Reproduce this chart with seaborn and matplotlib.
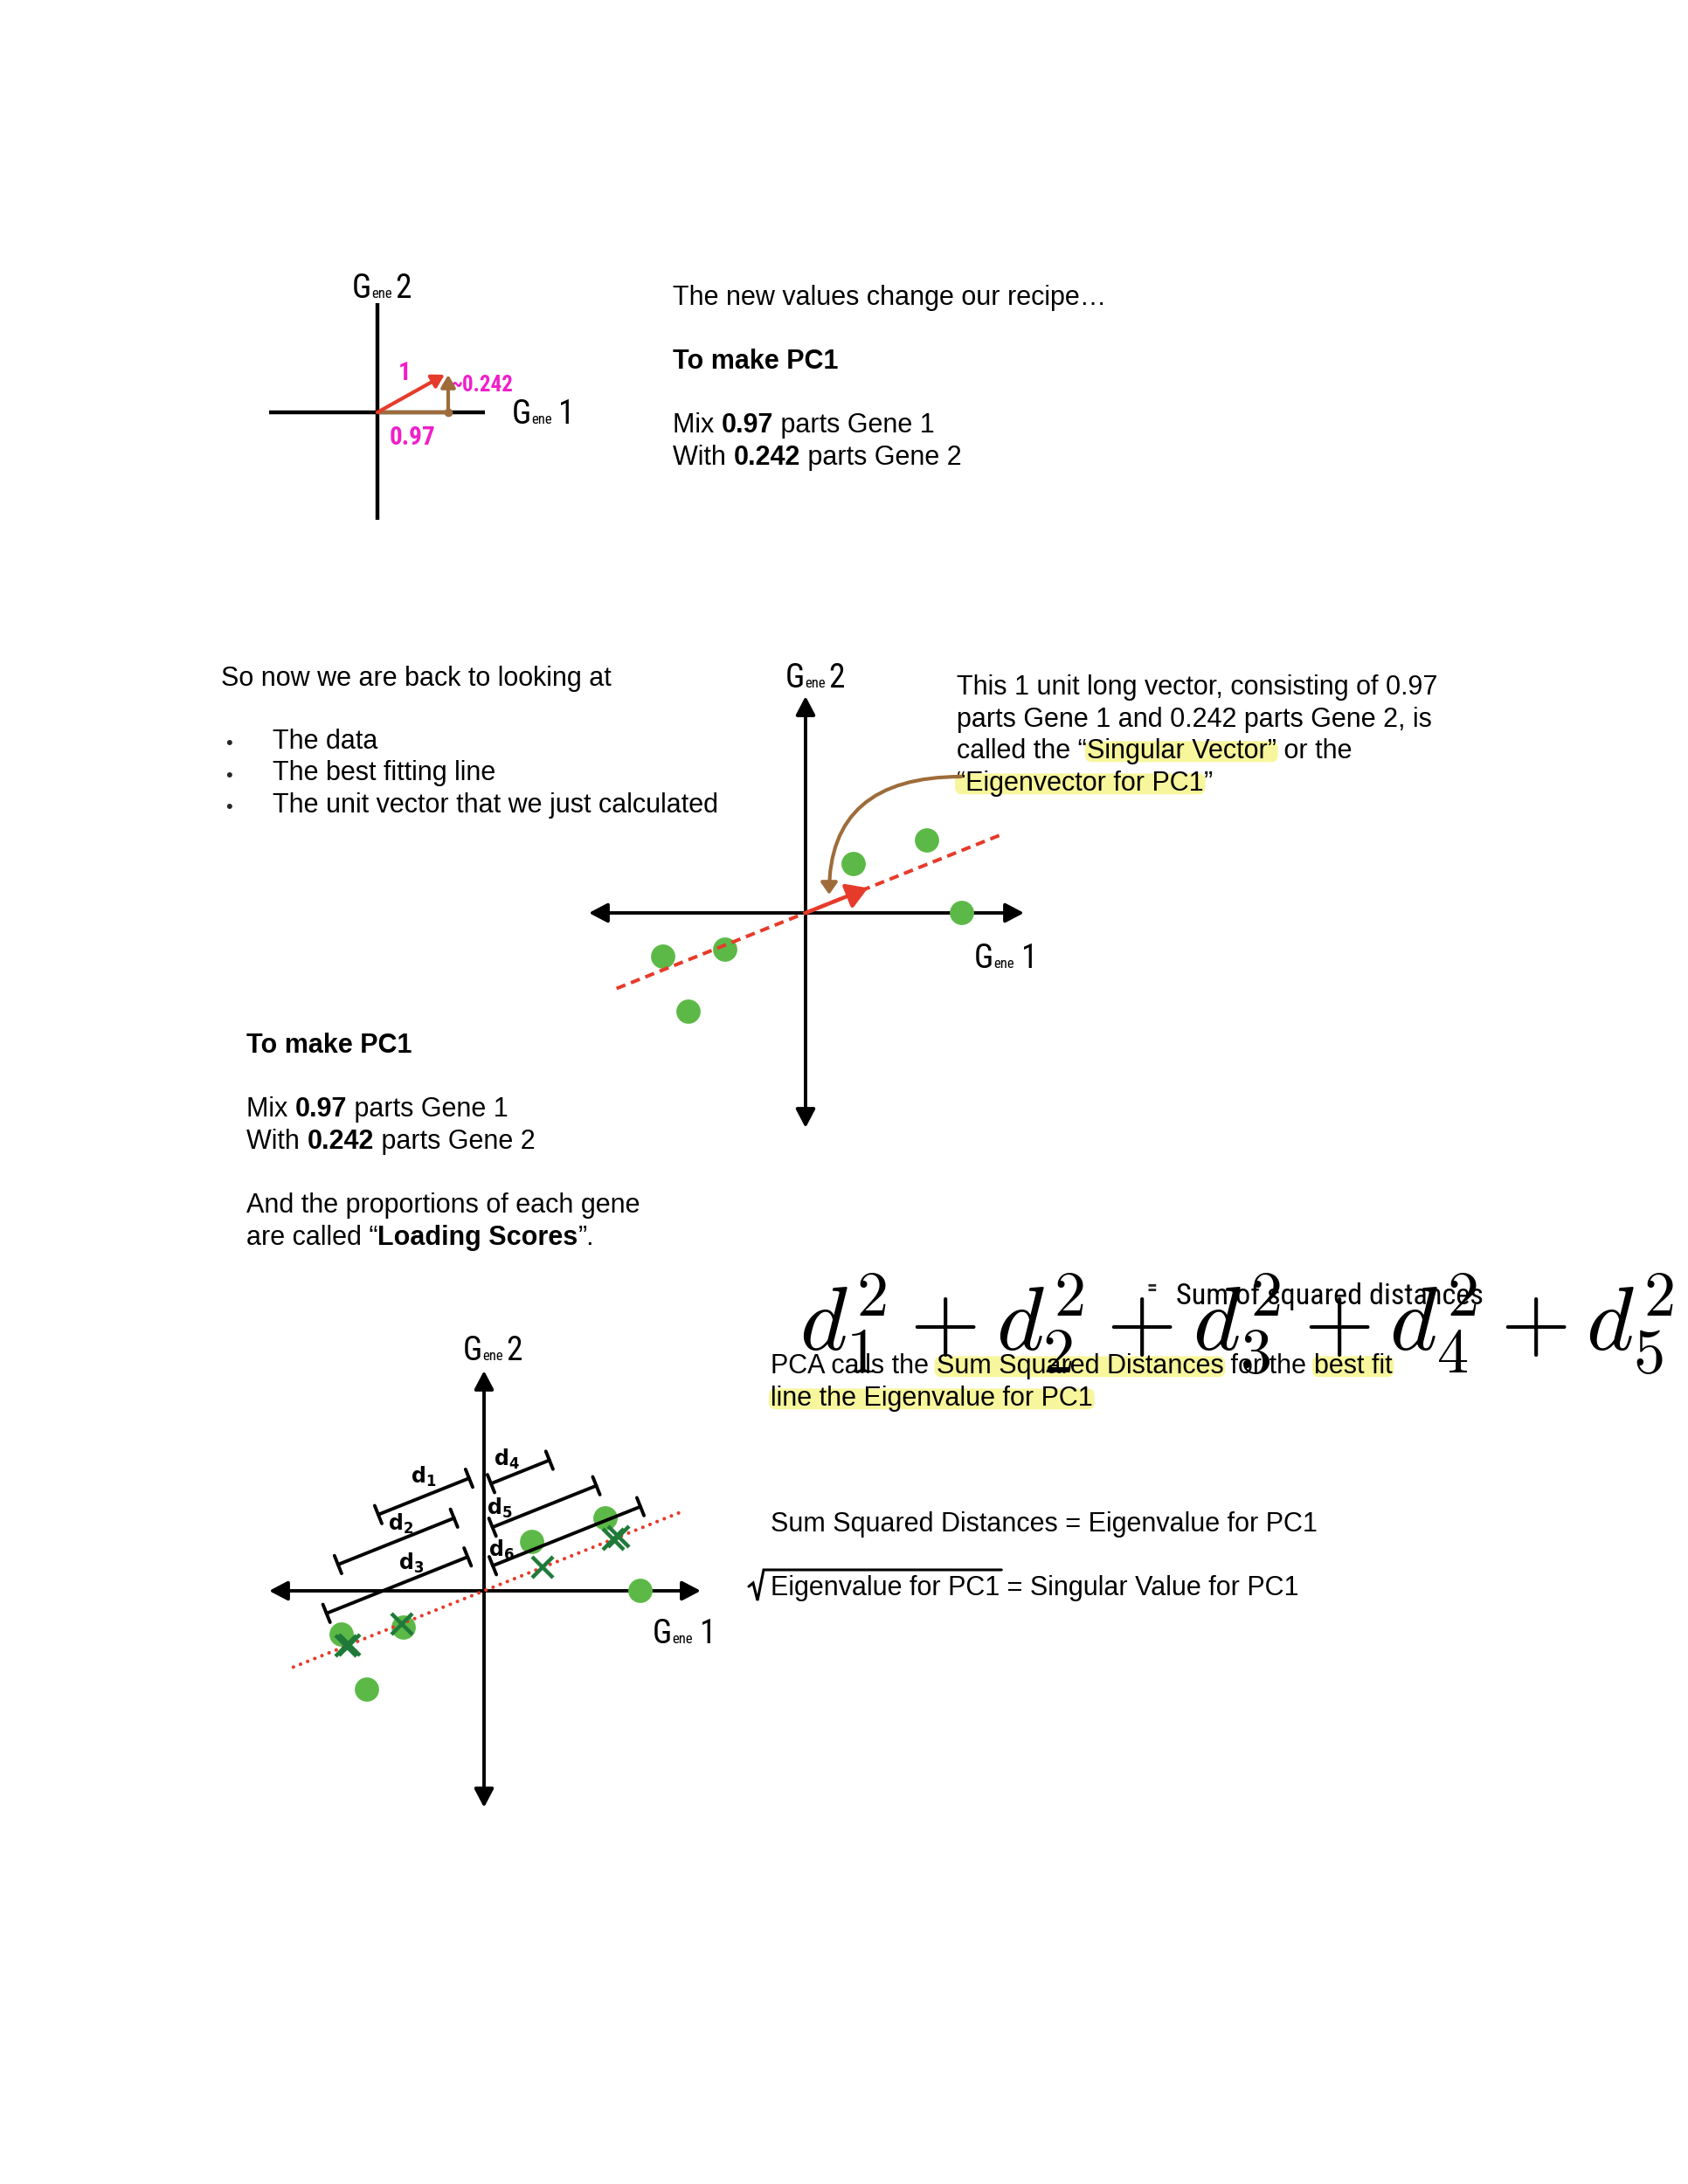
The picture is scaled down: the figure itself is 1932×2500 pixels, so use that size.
import numpy as np
import pandas as pd
import matplotlib
matplotlib.use("Agg")
import matplotlib.pyplot as plt
import seaborn as sns
from matplotlib.patches import FancyBboxPatch
from matplotlib import font_manager

# ------------------------------------------------------------------ data
gene1 = [0.55, 1.39, 1.79, -0.92, -1.63, -1.34]      # Gene 1 values (sketch units)
gene2 = [0.56, 0.83, 0.00, -0.42, -0.50, -1.13]      # Gene 2 values
loading_gene1 = 0.97
loading_gene2 = 0.242
fit_slope = 0.40                     # slope of the drawn best-fit line
fit_span_mid = [-2.33, 2.44]         # extent of the dashed line (along the line)
fit_span_bot = [-2.35, 2.45]         # extent of the dotted line
unit_arrow_len = 0.77                # drawn length of the unit vector (middle sketch)

# distance bars in the bottom sketch (along-line start/end, offset above line)
bar_names = ["d_1", "d_2", "d_3", "d_4", "d_5", "d_6"]
bar_start = [-0.80, -1.44, -1.77, 0.53, 0.36, 0.20]
bar_end = [0.32, -0.01, -0.03, 1.25, 1.64, 2.02]
bar_offset = [1.26, 0.90, 0.43, 1.11, 0.64, 0.23]
bar_label_at = [-0.16, -0.60, -0.66, 0.80, 0.52, 0.36]
bar_label_rise = [0.21, 0.17, 0.17, 0.19, 0.17, 0.13]

top_text = ["The new values change our recipe\u2026", "To make PC1",
            "Mix ", "0.97", " parts Gene 1", "With ", "0.242", " parts Gene 2"]
bullets = ["The data", "The best fitting line", "The unit vector that we just calculated"]

# ------------------------------------------------------------------ style
sns.set_theme(style="white")
plt.rcParams["font.family"] = ["Liberation Sans", "DejaVu Sans"]
BODY = "Liberation Sans"
_names = {f.name for f in font_manager.fontManager.ttflist}
HAND = [n for n in ["Liberation Sans Narrow", "DejaVu Sans Condensed", "Roboto Condensed"]
        if n in _names] + ["DejaVu Sans"]
GREEN = "#5CB947"
DKGREEN = "#1F7A3A"
RED = "#E63B2B"
BROWN = "#9E6C3B"
MAGENTA = "#F01FC9"
HL = "#F8F69C"

W, H = 1932, 2500
fig = plt.figure(figsize=(W / 100, H / 100), dpi=100)
fig.patch.set_facecolor("white")
page = fig.add_axes([0, 0, 1, 1])
page.set_xlim(0, W)
page.set_ylim(H, 0)
page.axis("off")
renderer = fig.canvas.get_renderer()


def seg_width(s, fs, weight="normal", family=BODY):
    kw = dict(fontsize=fs, fontweight=weight, family=family)
    t1 = page.text(0, 0, s + "|", **kw)
    t2 = page.text(0, 0, "|", **kw)
    w = t1.get_window_extent(renderer).width - t2.get_window_extent(renderer).width
    t1.remove()
    t2.remove()
    return w


def write(x, base, segs, fs=22, family=BODY, color="black"):
    em = fs * 100 / 72
    for text, style in segs:
        weight = "bold" if "b" in style else "normal"
        w = seg_width(text, fs, weight, family)
        if "h" in style:
            page.add_patch(FancyBboxPatch((x - 2, base - 0.64 * em), w + 4, 0.78 * em,
                                          boxstyle="round,pad=0,rounding_size=8",
                                          fc=HL, ec="none", zorder=1))
        page.text(x, base, text, fontsize=fs, fontweight=weight, family=family,
                  va="baseline", ha="left", color=color, zorder=3)
        x += w
    return x


def gene_label(cx, cy, num, gap):
    segs = [("G", 27), ("ene", 12), (gap, 12), (num, 27)]
    widths = [seg_width(s, f, "normal", HAND) for s, f in segs]
    x = cx - sum(widths) / 2
    base = cy + 16
    for (s, f), w in zip(segs, widths):
        page.text(x, base, s, fontsize=f, family=HAND, va="baseline", ha="left",
                  color="black", zorder=3)
        x += w


def diagram_axes(origin, ppu, box):
    ox, oy = origin
    l, t, r, b = box
    ax = fig.add_axes([l / W, 1 - b / H, (r - l) / W, (b - t) / H])
    ax.set_xlim((l - ox) / ppu[0], (r - ox) / ppu[0])
    ax.set_ylim((oy - b) / ppu[1], (oy - t) / ppu[1])
    ax.axis("off")
    ax.patch.set_alpha(0)
    return ax


def axis_arrows(ax, xr, yr):
    st = "<|-|>,head_length=0.8,head_width=0.42"
    ax.annotate("", xy=(xr[1], 0), xytext=(xr[0], 0),
                arrowprops=dict(arrowstyle=st, color="black", lw=2.8, mutation_scale=16,
                                shrinkA=0, shrinkB=0), zorder=2)
    ax.annotate("", xy=(0, yr[1]), xytext=(0, yr[0]),
                arrowprops=dict(arrowstyle=st, color="black", lw=2.8, mutation_scale=16,
                                shrinkA=0, shrinkB=0), zorder=2)


df = pd.DataFrame({"Gene 1": gene1, "Gene 2": gene2})
theta = np.arctan(fit_slope)
u = np.array([np.cos(theta), np.sin(theta)])
nrm = np.array([-np.sin(theta), np.cos(theta)])

# ------------------------------------------------------------------ top sketch
ax1 = diagram_axes((432, 472), (83.5, 178), (290, 330, 580, 610))
ax1.plot([-1.48, 1.47], [0, 0], color="black", lw=3.2, solid_capstyle="butt")
ax1.plot([0, 0], [-0.69, 0.70], color="black", lw=3.2, solid_capstyle="butt")
ax1.plot([0, loading_gene1], [0, 0], color=BROWN, lw=3.0, zorder=3)
ax1.plot([loading_gene1], [0], "o", color=BROWN, ms=6, zorder=4)
ax1.annotate("", xy=(loading_gene1, loading_gene2), xytext=(loading_gene1, 0),
             arrowprops=dict(arrowstyle="-|>,head_length=0.6,head_width=0.35", color=BROWN,
                             lw=3.0, mutation_scale=14, shrinkA=0, shrinkB=0), zorder=3)
ax1.annotate("", xy=(loading_gene1 * 0.95, loading_gene2), xytext=(0, 0),
             arrowprops=dict(arrowstyle="-|>,head_length=0.6,head_width=0.35", color=RED,
                             lw=3.0, mutation_scale=14, shrinkA=0, shrinkB=0), zorder=4)
page.text(463, 427, "1", fontsize=21, fontweight="bold", family=HAND, color=MAGENTA,
          ha="center", va="center")
page.text(516, 441, "~0.242", fontsize=18, fontweight="bold", family=HAND, color=MAGENTA,
          ha="left", va="center")
page.text(472, 501, "0.97", fontsize=21, fontweight="bold", family=HAND, color=MAGENTA,
          ha="center", va="center")
gene_label(437, 325, "2", " ")
gene_label(622, 469, "1", "  ")

write(770, 349, [(top_text[0], "")])
write(770, 422, [(top_text[1], "b")])
write(770, 495, [(top_text[2], ""), (top_text[3], "b"), (top_text[4], "")])
write(770, 532, [(top_text[5], ""), (top_text[6], "b"), (top_text[7], "")])

# ------------------------------------------------------------------ middle sketch
write(253, 785, [("So now we are back to looking at", "")])
for i, b in enumerate(bullets):
    page.text(258, 857 + 36.5 * i, "\u2022", fontsize=16, family=BODY, va="baseline", ha="left")
    write(312, 857 + 36.5 * i, [(b, "")])

ax2 = diagram_axes((922, 1045), (100, 100), (640, 780, 1210, 1310))
axis_arrows(ax2, (-2.48, 2.50), (-2.46, 2.48))
sns.scatterplot(data=df, x="Gene 1", y="Gene 2", ax=ax2, s=400, color=GREEN,
                edgecolor="none", zorder=3, legend=False)
span = np.array(fit_span_mid)
ax2.plot(span * u[0], span * u[1], color=RED, lw=2.9, dashes=(2.7, 1.7), zorder=4)
tip = unit_arrow_len * u
ax2.annotate("", xy=(tip[0], tip[1]), xytext=(0, 0),
             arrowprops=dict(arrowstyle="-|>,head_length=0.9,head_width=0.55", color=RED,
                             lw=3.2, mutation_scale=16, shrinkA=0, shrinkB=0), zorder=5)
ax2.set_xlim((640 - 922) / 100, (1210 - 922) / 100)
ax2.set_ylim((1045 - 1310) / 100, (1045 - 780) / 100)
ax2.set_xlabel("")
ax2.set_ylabel("")
gene_label(933, 771, "2", " ")
gene_label(1151, 1092, "1", "  ")

write(1095, 795, [("This 1 unit long vector, consisting of 0.97", "")])
write(1095, 832, [("parts Gene 1 and 0.242 parts Gene 2, is", "")])
write(1095, 868, [("called the \u201c", ""), ("Singular Vector\u201d", "h"), (" or the", "")])
write(1095, 905, [("\u201cEigenvector for PC1", "h"), ("\u201d", "")])

page.annotate("", xy=(949, 1024), xytext=(1100, 889),
              arrowprops=dict(arrowstyle="-|>,head_length=0.5,head_width=0.35", color=BROWN,
                              lw=3.0, mutation_scale=16, shrinkA=0, shrinkB=0,
                              connectionstyle="angle3,angleA=0,angleB=90"), zorder=4)

write(282, 1205, [("To make PC1", "b")])
write(282, 1278, [(top_text[2], ""), (top_text[3], "b"), (top_text[4], "")])
write(282, 1315, [(top_text[5], ""), (top_text[6], "b"), (top_text[7], "")])
write(282, 1388, [("And the proportions of each gene", "")])
write(282, 1425, [("are called \u201c", ""), ("Loading Scores", "b"), ("\u201d.", "")])

# ------------------------------------------------------------------ bottom sketch
ax3 = diagram_axes((554, 1821), (100, 100), (290, 1500, 830, 2090))
axis_arrows(ax3, (-2.46, 2.48), (-2.48, 2.52))
sns.scatterplot(data=df, x="Gene 1", y="Gene 2", ax=ax3, s=400, color=GREEN,
                edgecolor="none", zorder=3, legend=False)
span = np.array(fit_span_bot)
ax3.plot(span * u[0], span * u[1], color=RED, lw=3.0, dashes=(0.01, 2.1),
         dash_capstyle="round", zorder=4)
pts = df[["Gene 1", "Gene 2"]].to_numpy()
proj = (pts @ u)[:, None] * u[None, :]
ax3.plot(proj[:, 0], proj[:, 1], ls="none", marker="x", ms=17, mew=3.2, color=DKGREEN, zorder=5)
for name, s0, s1, h, la, lr in zip(bar_names, bar_start, bar_end, bar_offset,
                                   bar_label_at, bar_label_rise):
    p0 = s0 * u + h * nrm
    p1 = s1 * u + h * nrm
    ax3.plot([p0[0], p1[0]], [p0[1], p1[1]], color="black", lw=2.8, zorder=4)
    for p in (p0, p1):
        a, b = p - 0.11 * nrm, p + 0.11 * nrm
        ax3.plot([a[0], b[0]], [a[1], b[1]], color="black", lw=2.8, zorder=4)
    lp = la * u + (h + lr) * nrm
    ax3.text(lp[0], lp[1], "$\\mathbf{" + name + "}$", fontsize=17, ha="center", va="center",
             color="black", zorder=5)
ax3.set_xlim((290 - 554) / 100, (830 - 554) / 100)
ax3.set_ylim((1821 - 2090) / 100, (1821 - 1500) / 100)
ax3.set_xlabel("")
ax3.set_ylabel("")
gene_label(564, 1541, "2", " ")
gene_label(783, 1865, "1", "  ")

# equation
eq = r"$d_1^2 + d_2^2 + d_3^2 + d_4^2 + d_5^2$"
t = page.text(0, 0, eq, fontsize=90, math_fontfamily="cm")
w90 = t.get_window_extent(renderer).width
t.remove()
page.text(915, 1547, eq, fontsize=90 * 1000 / w90, math_fontfamily="cm", ha="left",
          va="baseline", color="black", zorder=6)
page.text(1318, 1476, "=", fontsize=17, fontweight="bold", family=HAND, ha="center",
          va="center", zorder=7)
hand_fs = 19 * 353 / seg_width("Sum of squared distances", 19, "normal", HAND)
page.text(1346, 1493, "Sum of squared distances", fontsize=hand_fs, family=HAND,
          ha="left", va="baseline", color="black", zorder=7)

write(882, 1572, [("PCA calls the ", ""), ("Sum Squared Distances", "h"), (" for the ", ""),
                  ("best fit", "h")])
write(882, 1609, [("line the Eigenvalue for PC1", "h")])
write(882, 1753, [("Sum Squared Distances = Eigenvalue for PC1", "")])
x_end = write(882, 1826, [("Eigenvalue for PC1", "")])
write(x_end, 1826, [(" = Singular Value for PC1", "")])
page.plot([857, 862, 867, 874, x_end + 2], [1816, 1812, 1832, 1797, 1797],
          color="black", lw=2.2, solid_joinstyle="miter", zorder=4)

fig.savefig("out.png", dpi=100, facecolor="white")
